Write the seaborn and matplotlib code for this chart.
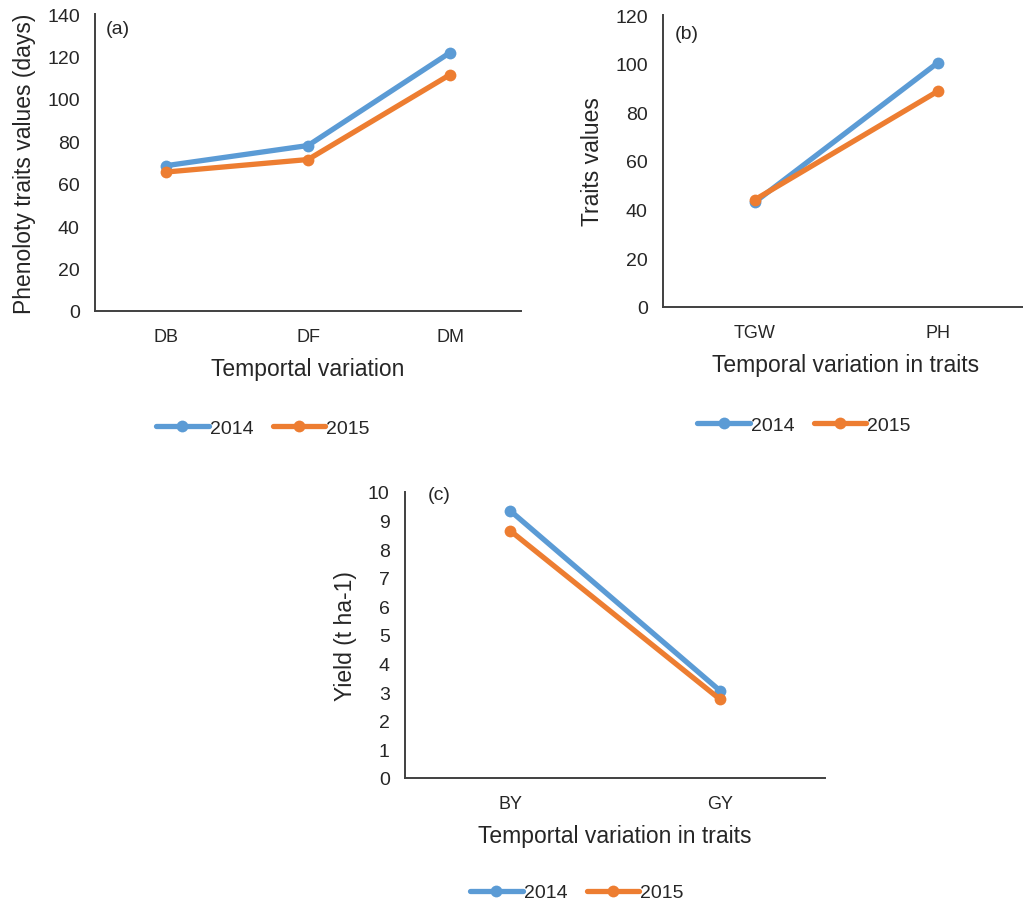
import pandas as pd
import matplotlib
matplotlib.use("Agg")
import matplotlib.pyplot as plt
import seaborn as sns

# values
years = ["2014", "2015"]

pheno_traits = ["DB", "DF", "DM"]
pheno_2014 = [68.5, 78, 121.8]
pheno_2015 = [65.5, 71.4, 111.4]

other_traits = ["TGW", "PH"]
other_2014 = [43.0, 100.3]
other_2015 = [44.0, 88.6]

yield_traits = ["BY", "GY"]
yield_2014 = [9.35, 3.05]
yield_2015 = [8.65, 2.75]

colors = {"2014": "#5B9BD5", "2015": "#ED7D31"}

sns.set_style("white")
plt.rcParams['font.family'] = ['Liberation Sans', 'DejaVu Sans']
text_col = "#262626"


def make_df(traits, v14, v15):
    rows = []
    for t, a, b in zip(traits, v14, v15):
        rows.append({"Trait": t, "Year": "2014", "Value": a})
        rows.append({"Trait": t, "Year": "2015", "Value": b})
    return pd.DataFrame(rows)


fig = plt.figure(figsize=(10.23, 9.04), dpi=100)

panels = [
    # rect, df, ylim, step, ylabel, xlabel, tag, tag pos, legend pos
    ([0.0929, 0.6549, 0.4164, 0.3285], make_df(pheno_traits, pheno_2014, pheno_2015),
     140, 20, "Phenoloty traits values (days)", "Temportal variation", "(a)", (0.024, 0.95), (0.257, 0.5254)),
    ([0.6481, 0.6593, 0.3578, 0.3230], make_df(other_traits, other_2014, other_2015),
     120, 20, "Traits values", "Temporal variation in traits", "(b)", (0.033, 0.935), (0.786, 0.5288)),
    ([0.3959, 0.1383, 0.4106, 0.3164], make_df(yield_traits, yield_2014, yield_2015),
     10, 1, "Yield (t ha-1)", "Temportal variation in traits", "(c)", (0.055, 0.99), (0.564, 0.0115)),
]

for rect, df, ymax, step, ylab, xlab, tag, tagpos, legpos in panels:
    ax = fig.add_axes(rect)
    sns.lineplot(data=df, x="Trait", y="Value", hue="Year", palette=colors,
                 marker="o", markersize=8.5, markeredgewidth=0, linewidth=3.8,
                 ax=ax, legend=True)
    n = df["Trait"].nunique()
    ax.set_xlim(-0.5, n - 0.5)
    ax.set_ylim(0, ymax)
    ax.set_yticks(range(0, ymax + 1, step))
    ax.tick_params(axis="both", length=0, colors=text_col)
    ax.tick_params(axis="x", pad=12, labelsize=13)
    ax.tick_params(axis="y", pad=11, labelsize=14)
    for s in ["top", "right"]:
        ax.spines[s].set_visible(False)
    for s in ["left", "bottom"]:
        ax.spines[s].set_color("#404040")
        ax.spines[s].set_linewidth(1.4)
    ax.set_xlabel(xlab, fontsize=16.5, color=text_col, labelpad=9)
    ax.set_ylabel(ylab, fontsize=16.5, color=text_col, labelpad=8)
    ax.text(tagpos[0], tagpos[1], tag, transform=ax.transAxes, fontsize=14,
            color=text_col, ha="left", va="center")
    handles, labels = ax.get_legend_handles_labels()
    ax.get_legend().remove()
    fig.legend(handles, labels, loc="center", bbox_to_anchor=legpos, ncol=2,
               frameon=False, fontsize=14, handlelength=2.7, handletextpad=0.05,
               columnspacing=1.0, labelcolor=text_col)

fig.savefig("out.png", dpi=100)
